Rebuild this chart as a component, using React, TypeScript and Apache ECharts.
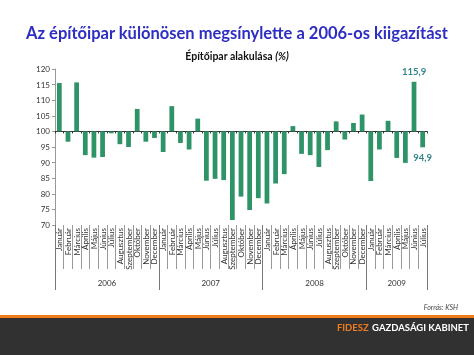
import React, { useEffect, useRef } from "react";
import * as echarts from "echarts";

const monthNames = ["Január", "Február", "Március", "Április", "Május", "Június", "Július", "Augusztus", "Szeptember", "Október", "November", "December"];
const years = ["2006", "2007", "2008", "2009"];
const values2006 = [115.5, 96.7, 115.7, 92.4, 91.6, 91.8, 99.4, 95.9, 95.0, 107.2, 96.7, 97.9];
const values2007 = [93.4, 108.1, 96.3, 94.2, 104.1, 84.2, 84.8, 84.4, 71.6, 79.1, 74.8, 78.6];
const values2008 = [76.9, 83.3, 86.3, 101.7, 92.8, 92.4, 88.6, 94.0, 103.2, 97.4, 102.7, 105.4];
const values2009 = [84.1, 94.2, 103.4, 91.5, 89.9, 115.9, 94.9];
const yTicks = [70, 75, 80, 85, 90, 95, 100, 105, 110, 115, 120];
const baseValue = 100;
const labelledTop = 41;
const labelledBottom = 42;

const yearValues = [values2006, values2007, values2008, values2009];
const categories: string[] = [];
const values: number[] = [];
const yearBounds: number[] = [0];
const yearCenters: number[] = [];
yearValues.forEach((arr) => {
  const start = categories.length;
  arr.forEach((v, i) => {
    categories.push(monthNames[i]);
    values.push(v);
  });
  yearBounds.push(categories.length);
  yearCenters.push((start + categories.length) / 2);
});

const FONT = "Lato";
const fmt = (v: number) => v.toFixed(1).replace(".", ",");

export default function App() {
  const ref = useRef<HTMLDivElement>(null);
  useEffect(() => {
    if (!ref.current) return;
    const chart = echarts.init(ref.current, null, { renderer: "svg" });
    const data = values.map((v, i) => {
      const item: any = { value: +(v - baseValue).toFixed(2) };
      if (i === labelledTop || i === labelledBottom) {
        item.label = {
          show: true,
          position: i === labelledTop ? "top" : "bottom",
          formatter: () => fmt(v),
          color: "#2f8587",
          fontWeight: "bold",
          fontSize: 9.5,
          fontFamily: FONT,
          distance: 5,
        };
      }
      return item;
    });
    chart.setOption({
      animation: false,
      textStyle: { fontFamily: FONT },
      title: [
        {
          text: "Az építőipar különösen megsínylette a 2006-os kiigazítást",
          left: "center",
          top: 19,
          textStyle: { fontSize: 16.5, fontWeight: "bold", color: "#2e2ec4", fontFamily: FONT },
        },
        {
          text: "{b|Építőipar alakulása }{i|(%)}",
          left: "center",
          top: 45,
          textStyle: {
            rich: {
              b: { fontSize: 10.5, fontWeight: "bold", color: "#111", fontFamily: FONT },
              i: { fontSize: 10.5, fontWeight: "bold", fontStyle: "italic", color: "#111", fontFamily: FONT },
            },
          },
        },
      ],
      grid: { left: 55, right: 47, top: 69, bottom: 130, containLabel: false },
      xAxis: [
        {
          type: "category",
          data: categories,
          position: "bottom",
          axisLine: { show: true, onZero: true, lineStyle: { color: "#333", width: 1 } },
          axisTick: { show: true, interval: 0, length: 2, lineStyle: { color: "#333" } },
          axisLabel: { show: false },
          splitLine: { show: false },
        },
        {
          type: "category",
          data: categories,
          position: "bottom",
          axisLine: { show: false, onZero: false },
          axisTick: { show: true, interval: 0, length: 44, lineStyle: { color: "#9a9a9a" } },
          axisLabel: { show: true, interval: 0, rotate: 90, fontSize: 8, color: "#333", margin: 3, fontFamily: FONT },
          splitLine: { show: false },
        },
        {
          type: "value",
          min: 0,
          max: categories.length,
          position: "bottom",
          axisLine: { show: false, onZero: false },
          axisTick: { show: true, customValues: yearBounds, length: 65, lineStyle: { color: "#777" } },
          axisLabel: {
            show: true,
            customValues: yearCenters,
            formatter: (v: number) => {
              const idx = yearCenters.indexOf(v);
              return idx >= 0 ? years[idx] : "";
            },
            fontSize: 8,
            color: "#333",
            margin: 54,
            fontFamily: FONT,
          },
          splitLine: { show: false },
        },
      ],
      yAxis: {
        type: "value",
        min: yTicks[0] - baseValue,
        max: yTicks[yTicks.length - 1] - baseValue,
        interval: 5,
        axisLine: { show: true, lineStyle: { color: "#999" } },
        axisTick: { show: true, length: 3, lineStyle: { color: "#999" } },
        axisLabel: { formatter: (v: number) => String(v + baseValue), fontSize: 8, color: "#333", margin: 5, fontFamily: FONT },
        splitLine: { show: false },
      },
      series: [
        {
          type: "bar",
          xAxisIndex: 0,
          data,
          barWidth: "55%",
          itemStyle: { color: "#2e9468" },
        },
      ],
      graphic: [
        {
          type: "text",
          right: 16,
          top: 303,
          style: { text: "Forrás: KSH", fontSize: 7, fontStyle: "italic", fill: "#444", fontFamily: FONT },
        },
        {
          type: "rect",
          left: 0,
          top: 315,
          shape: { width: 474, height: 3 },
          style: { fill: "#f07c1c" },
        },
        {
          type: "rect",
          left: 0,
          top: 318,
          shape: { width: 474, height: 37 },
          style: { fill: "#313131" },
        },
        {
          type: "text",
          right: 5,
          top: 321,
          style: {
            text: "{o|FIDESZ} {w|GAZDASÁGI KABINET}",
            rich: {
              o: { fontSize: 9.5, fontWeight: "bold", fill: "#f07c1c", fontFamily: FONT },
              w: { fontSize: 9.5, fontWeight: "bold", fill: "#ffffff", fontFamily: FONT },
            },
          },
        },
      ],
    });
    return () => chart.dispose();
  }, []);
  return <div ref={ref} style={{ position: "fixed", left: 0, top: 0, width: 474, height: 355 }} />;
}
